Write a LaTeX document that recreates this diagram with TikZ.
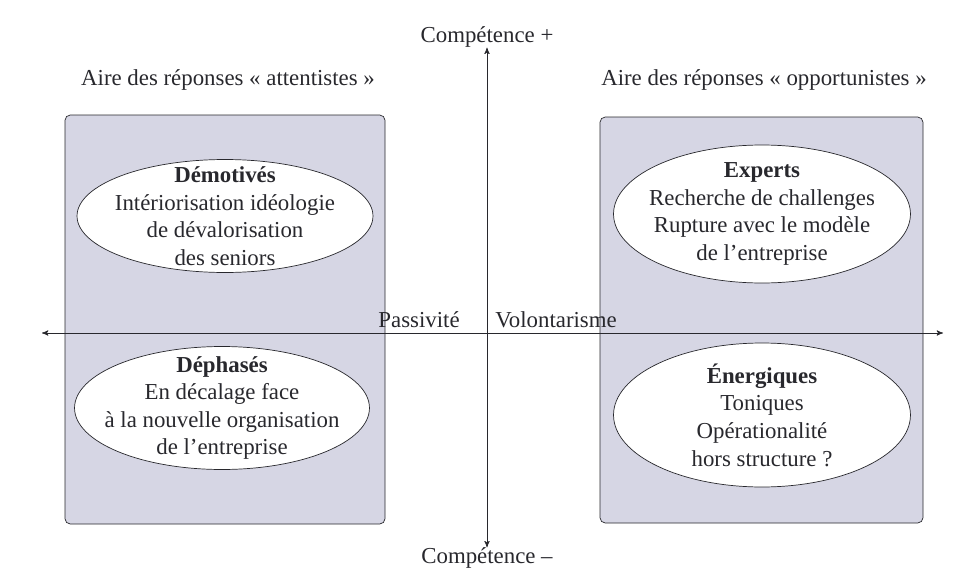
\documentclass[tikz,border=0pt]{standalone}
\usepackage{fontspec}
\setmainfont{Liberation Serif}
\usetikzlibrary{arrows,shapes}
\definecolor{area-blue}{RGB}{214,214,228}
\definecolor{ink}{RGB}{40,40,45}
\tikzstyle{area}=[draw=ink, fill=area-blue, rounded corners=3pt]
\tikzstyle{profile}=[ellipse, draw=ink, fill=white, inner sep=0pt]
\tikzstyle{tag}=[align=center, text=ink, inner sep=0pt]
\tikzstyle{caption}=[text=ink, inner sep=0pt]
\tikzstyle{axis}=[draw=ink, stealth'-stealth']

\begin{document}
\begin{tikzpicture}[x=0.02cm, y=-0.02cm, font=\fontsize{13}{15.7}\selectfont]
	\useasboundingbox (0,0) rectangle (975,585);
	\fill[white] (0,0) rectangle (975,585);
	% the two areas
	\draw[area] (65,115) rectangle (385,524);
	\draw[area] (600,117) rectangle (923,523);
	\node[caption] (attente) at (228,80) {Aire des réponses « attentistes »};
	\node[caption] (opportun) at (764,80) {Aire des réponses « opportunistes »};
	% axes
	\node[caption] (cplus) at (487,37) {Compétence +};
	\node[caption] (cminus) at (487,558) {Compétence –};
	\coordinate (west) at (42,333);
	\coordinate (east) at (943,333);
	\draw[axis] (cminus.north) -- (cplus.south);
	\draw[axis] (west) -- (east);
	\node[caption, anchor=south east] (passif) at (460,328) {Passivité};
	\node[caption, anchor=south west] (volont) at (495,328) {Volontarisme};
	% profiles
	\node[profile, minimum width=5.92cm, minimum height=2.26cm,
		label={[tag]center:{\textbf{Démotivés}\\Intériorisation idéologie\\de dévalorisation\\des seniors}}] (demotives) at (225,216) {};
	\node[profile, minimum width=5.9cm, minimum height=2.46cm,
		label={[tag]center:{\textbf{Déphasés}\\En décalage face\\à la nouvelle organisation\\de l’entreprise}}] (dephases) at (222,408) {};
	\node[profile, minimum width=5.94cm, minimum height=2.76cm,
		label={[tag]center:{\textbf{Experts}\\Recherche de challenges\\Rupture avec le modèle\\de l’entreprise}}] (experts) at (762,214) {};
	\node[profile, minimum width=5.94cm, minimum height=2.88cm,
		label={[tag]center:{\textbf{Énergiques}\\Toniques\\Opérationalité\\hors structure ?}}] (energiques) at (762,415) {};
\end{tikzpicture}
\end{document}
